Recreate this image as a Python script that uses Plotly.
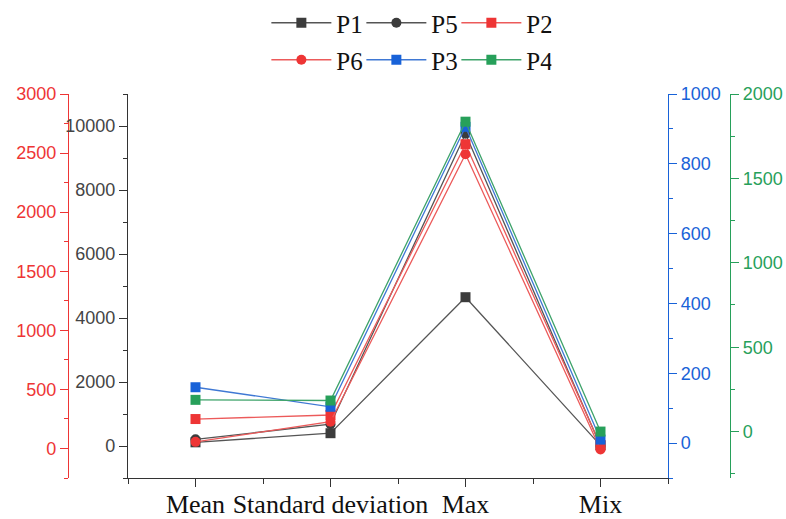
import plotly.graph_objects as go

categories = ["Mean", "Standard deviation", "Max", "Mix"]
p1 = [115, 400, 4650, 20]      # left black axis
p5 = [210, 680, 9760, 0]       # left black axis
p2 = [249, 283, 2575, 28]      # left red axis
p6 = [56, 226, 2490, -8]       # left red axis
p3 = [160, 104, 906, 10]       # right blue axis
p4 = [188, 184, 1836, 0]       # right green axis

xpos = list(range(len(categories)))

BLACK = "#3c3c3c"
RED = "#ee3535"
BLUE = "#1862d8"
GREEN = "#27a05a"
LBLACK = "#555555"
LRED = "#ec5a5a"
LBLUE = "#3f78d4"
LGREEN = "#3ea36a"

W, H = 786, 519
L, R, T, B = 128, 668, 94, 478

fig = go.Figure()

def add(name, y, color, lcolor, symbol, yaxis, legend):
    fig.add_trace(go.Scatter(
        x=xpos, y=y, name=name, mode="lines+markers", yaxis=yaxis, legend=legend,
        line=dict(color=lcolor, width=1.3),
        marker=dict(symbol=symbol, size=10, color=color, line=dict(width=0)),
    ))

add("P1", p1, BLACK, LBLACK, "square", "y", "legend")
add("P5", p5, BLACK, LBLACK, "circle", "y", "legend")
add("P2", p2, RED, LRED, "square", "y2", "legend")
add("P6", p6, RED, LRED, "circle", "y2", "legend2")
add("P3", p3, BLUE, LBLUE, "square", "y3", "legend2")
add("P4", p4, GREEN, LGREEN, "square", "y4", "legend2")

tickfont = dict(family="Liberation Sans", size=18)

def yax(color, tcolor, rng, dtick, mdtick, **kw):
    d = dict(range=rng, dtick=dtick, tick0=0, showgrid=False, zeroline=False,
             showline=True, linecolor=color, linewidth=1.2, tickformat="d",
             ticks="outside", ticklen=8, tickwidth=1.2, tickcolor=color,
             tickfont=dict(tickfont, color=tcolor),
             minor=dict(dtick=mdtick, ticks="outside", ticklen=4, tickcolor=color, tickwidth=1.2),
             automargin=False)
    d.update(kw)
    return d

legfont = dict(family="Liberation Serif", size=25, color="#111")
LEGX = (311 - L) / (R - L)

fig.update_layout(
    width=W, height=H,
    margin=dict(l=0, r=0, t=T, b=H - B, autoexpand=False),
    paper_bgcolor="white", plot_bgcolor="white",
    xaxis=dict(domain=[L / W, R / W], range=[-0.5, 3.5],
               tickvals=xpos, ticktext=categories,
               showgrid=False, zeroline=False, showline=True, linecolor="#333", linewidth=1.2,
               ticks="outside", ticklen=8, tickwidth=1.2, tickcolor="#333",
               minor=dict(dtick=0.5, tick0=0, ticks="outside", ticklen=5, tickcolor="#333", tickwidth=1.2),
               tickfont=dict(family="Liberation Serif", size=26, color="#111"),
               ticklabelstandoff=-5,
               automargin=False),
    yaxis=yax("#333", "#444", [-1000, 11000], 2000, 1000, side="left"),
    yaxis2=yax(RED, RED, [-250, 3000], 500, 250, side="left", overlaying="y",
               anchor="free", position=68 / W),
    yaxis3=yax(BLUE, BLUE, [-100, 1000], 200, 100, side="right", overlaying="y",
               anchor="x"),
    yaxis4=yax(GREEN, GREEN, [-275, 2000], 500, 250, side="right", overlaying="y",
               anchor="free", position=730 / W),
    legend=dict(orientation="h", x=LEGX, xanchor="left",
                y=(B - 23) / (B - T), yanchor="middle", font=legfont,
                bgcolor="rgba(0,0,0,0)", entrywidth=20, itemwidth=60, tracegroupgap=0),
    legend2=dict(orientation="h", x=LEGX, xanchor="left",
                 y=(B - 60) / (B - T), yanchor="middle", font=legfont,
                 bgcolor="rgba(0,0,0,0)", entrywidth=20, itemwidth=60, tracegroupgap=0),
    showlegend=True,
)

fig.write_html("out.html")
